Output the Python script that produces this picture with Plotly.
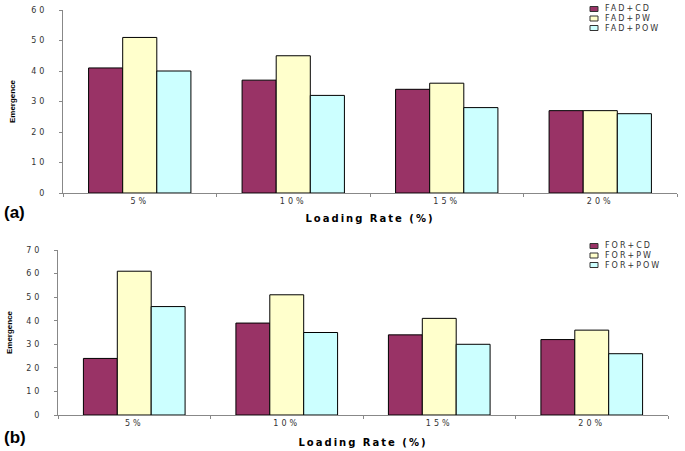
import plotly.graph_objects as go

categories = ["5%", "10%", "15%", "20%"]
fad_cd = [41, 37, 34, 27]
fad_pw = [51, 45, 36, 27]
fad_pow = [40, 32, 28, 26]
for_cd = [24, 39, 34, 32]
for_pw = [61, 51, 41, 36]
for_pow = [46, 35, 30, 26]
top_names = ["FAD+CD", "FAD+PW", "FAD+POW"]
bot_names = ["FOR+CD", "FOR+PW", "FOR+POW"]
top_yticks = [0, 10, 20, 30, 40, 50, 60]
bot_yticks = [0, 10, 20, 30, 40, 50, 60, 70]

colors = ["#993366", "#FFFFCC", "#CCFFFF"]
W, H = 685, 451

def px_x(p):
    return p / W

def px_y(p):
    return 1 - p / H

def spaced(t, sp):
    return f'<span style="letter-spacing:{sp}px">{t}</span>'

fig = go.Figure()
for name, vals, c in zip(top_names, [fad_cd, fad_pw, fad_pow], colors):
    fig.add_trace(go.Bar(x=categories, y=vals, name=name, showlegend=False,
                         marker=dict(color=c, line=dict(color="black", width=1)), xaxis="x", yaxis="y"))
for name, vals, c in zip(bot_names, [for_cd, for_pw, for_pow], colors):
    fig.add_trace(go.Bar(x=categories, y=vals, name=name, showlegend=False,
                         marker=dict(color=c, line=dict(color="black", width=1)), xaxis="x2", yaxis="y2"))

tickfont = dict(family="DejaVu Sans", size=8, color="#333")
axcommon = dict(showgrid=False, showline=True, linecolor="#888", linewidth=1, ticks="outside",
                tickcolor="#888", ticklen=3, tickfont=tickfont, zeroline=False, automargin=False)
ytitlefont = dict(family="Liberation Sans Narrow, Liberation Sans", size=8, color="black")
xtitlefont = dict(family="DejaVu Sans", size=10, color="black")
xtitle = "<b>" + spaced("Loading Rate (%)", 2) + "</b>"
xticktext = [spaced(c, 3) for c in categories]

fig.update_layout(
    width=W, height=H, margin=dict(l=0, r=0, t=0, b=0),
    paper_bgcolor="white", plot_bgcolor="white",
    barmode="group", bargap=1/3, bargroupgap=0, showlegend=False,
    xaxis=dict(domain=[px_x(63), px_x(677)], anchor="y", tickson="boundaries",
               tickvals=categories, ticktext=xticktext, **axcommon,
               title=dict(text=xtitle, font=xtitlefont, standoff=10)),
    yaxis=dict(domain=[px_y(193), px_y(10)], anchor="x", range=[0, 60],
               tickvals=top_yticks, ticktext=[spaced(v, 3) for v in top_yticks], ticklabelstandoff=10, **axcommon,
               title=dict(text="<b>Emergence</b>", font=ytitlefont, standoff=14)),
    xaxis2=dict(domain=[px_x(58), px_x(668)], anchor="y2", tickson="boundaries",
                tickvals=categories, ticktext=xticktext, **axcommon,
                title=dict(text=xtitle, font=xtitlefont, standoff=12)),
    yaxis2=dict(domain=[px_y(415), px_y(250)], anchor="x2", range=[0, 70],
                tickvals=bot_yticks, ticktext=[spaced(v, 3) for v in bot_yticks], ticklabelstandoff=10, **axcommon,
                title=dict(text="<b>Emergence</b>", font=ytitlefont, standoff=12)),
)

# compact legends (swatch + label)
legfont = dict(family="DejaVu Sans", size=8, color="#333")
for names, ytop in [(top_names, 9), (bot_names, 246)]:
    for i, (name, c) in enumerate(zip(names, colors)):
        yc = ytop + i * 9.5
        fig.add_shape(type="rect", xref="paper", yref="paper",
                      x0=px_x(590), x1=px_x(598), y0=px_y(yc + 2.5), y1=px_y(yc - 2.5),
                      fillcolor=c, line=dict(color="#333", width=1))
        fig.add_annotation(text=spaced(name, 2), x=px_x(603), y=px_y(yc), xref="paper", yref="paper",
                           showarrow=False, xanchor="left", yanchor="middle", font=legfont)

fig.add_annotation(text="<b>(a)</b>", x=px_x(2), y=px_y(212), xref="paper", yref="paper", showarrow=False,
                   xanchor="left", yanchor="middle", font=dict(family="Liberation Sans, Arial", size=17, color="black"))
fig.add_annotation(text="<b>(b)</b>", x=px_x(2), y=px_y(437), xref="paper", yref="paper", showarrow=False,
                   xanchor="left", yanchor="middle", font=dict(family="Liberation Sans, Arial", size=17, color="black"))

fig.write_html("out.html", config={"displayModeBar": False},
               post_script="document.body.style.margin='0px';")
